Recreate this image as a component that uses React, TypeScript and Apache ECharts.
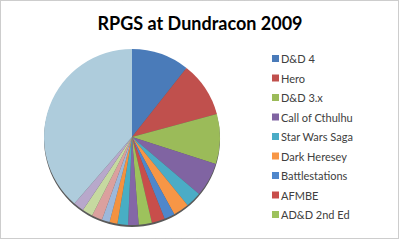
import React, { useEffect, useRef } from "react";
import * as echarts from "echarts";

const categories = [
  "D&D 4",
  "Hero",
  "D&D 3.x",
  "Call of Cthulhu",
  "Star Wars Saga",
  "Dark Heresey",
  "Battlestations",
  "AFMBE",
  "AD&D 2nd Ed",
  "Game 10",
  "Game 11",
  "Game 12",
  "Game 13",
  "Game 14",
  "Game 15",
  "Game 16",
  "Other",
];
const values = [22, 21, 19, 13, 6, 6, 4, 5, 5, 4, 4, 3, 3, 4, 4, 4, 80];
const colors = [
  "#4A7BB9",
  "#C0504D",
  "#9BBB59",
  "#8064A2",
  "#4BACC6",
  "#F79646",
  "#4F87CB",
  "#C84E4B",
  "#9DC25C",
  "#8467A6",
  "#48AEC4",
  "#F4923F",
  "#9DB8DA",
  "#DBA09E",
  "#C6D9A0",
  "#B8A8CB",
  "#AECCDC",
];
const legendNames = categories.slice(0, 9);

export default function App() {
  const ref = useRef<HTMLDivElement>(null);
  useEffect(() => {
    document.body.style.margin = "0";
    if (!ref.current) return;
    const chart = echarts.init(ref.current, undefined, { renderer: "svg" });
    chart.setOption({
      animation: false,
      backgroundColor: "#ffffff",
      title: {
        text: "RPGS at Dundracon 2009",
        left: "center",
        top: 9,
        textStyle: {
          fontFamily: "Lato",
          fontWeight: "bold",
          fontSize: 18,
          color: "#000000",
        },
      },
      legend: {
        orient: "vertical",
        left: 267,
        top: 48,
        data: legendNames,
        icon: "rect",
        itemWidth: 7,
        itemHeight: 7,
        itemGap: 8.5,
        textStyle: {
          fontFamily: "Lato",
          fontSize: 11,
          lineHeight: 11,
          color: "#404040",
          padding: [0, 0, 0, -3],
        },
      },
      graphic: [
        {
          type: "rect",
          shape: { x: 0.5, y: 0.5, width: 398, height: 238 },
          style: { fill: "none", stroke: "#9a9a9a", lineWidth: 1, lineDash: [1, 1] },
          silent: true,
        },
      ],
      series: [
        {
          type: "pie",
          silent: true,
          center: [132, 139],
          radius: 88,
          label: { show: false },
          labelLine: { show: false },
          z: 1,
          data: [{ value: 1, name: "__shadow", itemStyle: { color: "#5a5a5a" } }],
        },
        {
          type: "pie",
          center: [132, 137],
          radius: 88,
          startAngle: 90,
          clockwise: true,
          label: { show: false },
          labelLine: { show: false },
          z: 2,
          itemStyle: { borderWidth: 0 },
          data: categories.map((c, i) => ({
            name: c,
            value: values[i],
            itemStyle: { color: colors[i] },
          })),
        },
      ],
    });
    return () => chart.dispose();
  }, []);
  return <div ref={ref} style={{ width: 400, height: 241 }} />;
}
